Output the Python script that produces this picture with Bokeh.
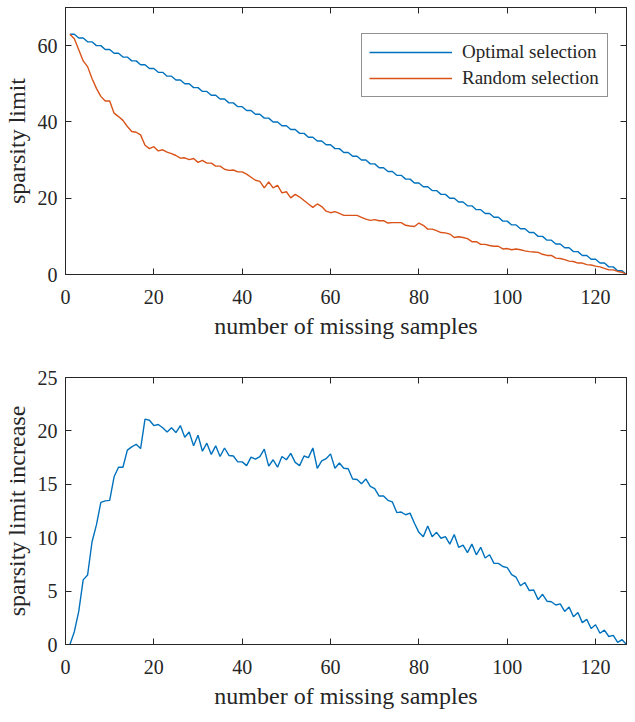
from bokeh.plotting import figure
from bokeh.layouts import column
from bokeh.models import LinearAxis, FixedTicker, Legend, LegendItem, CustomLabelingPolicy
from bokeh.embed import file_html
from bokeh.resources import INLINE

samples = list(range(1, 128))

optimal = [63,63,62,62,61,61,60,60,59,59,58,58,57,57,56,56,55,55,54,54,53,53,52,52,
           51,51,50,50,49,49,48,48,47,47,46,46,45,45,44,44,43,43,42,42,41,41,40,40,
           39,39,38,38,37,37,36,36,35,35,34,34,33,33,32,32,31,31,30,30,29,29,28,28,
           27,27,26,26,25,25,24,24,23,23,22,22,21,21,20,20,19,19,18,18,17,17,16,16,
           15,15,14,14,13,13,12,12,11,11,10,10,9,9,8,8,7,7,6,6,5,5,4,4,3,3,2,2,1,1,0]

random_sel = [63, 61.8, 58.9, 56.0, 54.5, 51.4, 48.8, 46.7, 45.5, 45.5,
              42.3, 41.4, 40.4, 38.8, 37.5, 37.3, 36.6, 33.9, 33.0, 33.5,
              32.4, 32.7, 32.1, 31.7, 31.2, 30.5, 30.6, 30.1, 30.4, 29.4,
              29.9, 29.2, 29.2, 28.4, 28.4, 27.6, 27.3, 27.4, 26.9, 26.9,
              26.3, 25.5, 24.7, 24.4, 22.7, 24.3, 22.7, 23.4, 21.4, 21.7,
              20.1, 21.0, 20.3, 19.4, 18.5, 17.6, 18.5, 17.8, 16.6, 16.2,
              16.5, 16.0, 15.5, 15.5, 15.5, 15.5, 15.0, 14.5, 14.2, 14.4,
              14.1, 14.1, 13.5, 13.6, 13.6, 13.6, 12.9, 12.7, 12.6, 13.5,
              12.9, 11.9, 11.9, 11.5, 11.0, 10.9, 10.6, 9.7, 9.9, 9.7,
              9.4, 8.6, 8.6, 7.9, 7.9, 7.6, 7.4, 7.4, 6.7, 6.8,
              6.5, 6.7, 6.5, 6.2, 6.0, 5.9, 5.8, 5.3, 5.0, 5.0,
              4.3, 4.2, 3.9, 3.5, 3.4, 3.0, 3.0, 2.6, 2.5, 2.2,
              2.0, 1.6, 1.2, 1.2, 0.8, 0.6, 0]

increase = [0, 1.2, 3.1, 6.05, 6.5, 9.6, 11.2, 13.3, 13.45, 13.5,
            15.7, 16.6, 16.6, 18.2, 18.5, 18.75, 18.35, 21.1, 21.0, 20.5,
            20.6, 20.3, 19.9, 20.3, 19.85, 20.5, 19.4, 19.9, 18.6, 19.6,
            18.1, 18.85, 17.8, 18.6, 17.6, 18.4, 17.7, 17.65, 17.1, 17.1,
            16.75, 17.55, 17.35, 17.6, 18.3, 16.7, 17.3, 16.6, 17.6, 17.3,
            17.9, 17.05, 16.75, 17.65, 17.5, 18.4, 16.5, 17.2, 17.4, 17.85,
            16.5, 17.0, 16.5, 16.45, 15.5, 15.45, 15.05, 15.5, 14.8, 14.6,
            13.9, 13.9, 13.5, 13.35, 12.35, 12.4, 12.15, 12.3, 11.35, 10.5,
            10.1, 11.1, 10.1, 10.5, 9.95, 10.1, 9.4, 10.3, 9.1, 9.3,
            8.6, 9.4, 8.4, 9.1, 8.1, 8.4, 7.6, 7.6, 7.3, 7.2,
            6.55, 6.3, 5.5, 5.8, 5.05, 5.1, 4.2, 4.7, 4.05, 4.0,
            3.7, 3.8, 3.1, 3.5, 2.6, 3.0, 2.05, 2.35, 1.5, 1.85,
            1.05, 1.35, 0.75, 0.85, 0.2, 0.45, 0]

x_ticks = [0, 20, 40, 60, 80, 100, 120]
top_y_ticks = [0, 20, 40, 60]
bottom_y_ticks = [0, 5, 10, 15, 20, 25]

BLUE = "#0072BD"
ORANGE = "#D95319"
AX = "#262626"
FONT = "Liberation Serif"

NO_LABELS = "for (const i of Array.from(indices)) { indices.unset(i) } return indices"


def style(p, yticks, ylabel):
    p.xgrid.visible = False
    p.ygrid.visible = False
    p.outline_line_color = AX
    p.outline_line_width = 1
    xax = p.below[0]
    yax = p.left[0]
    xax.ticker = FixedTicker(ticks=x_ticks)
    yax.ticker = FixedTicker(ticks=yticks)
    top = LinearAxis(ticker=FixedTicker(ticks=x_ticks),
                     major_label_policy=CustomLabelingPolicy(code=NO_LABELS))
    right = LinearAxis(ticker=FixedTicker(ticks=yticks),
                       major_label_policy=CustomLabelingPolicy(code=NO_LABELS))
    for ax in [xax, yax, top, right]:
        ax.axis_line_color = AX
        ax.major_tick_line_color = AX
        ax.major_tick_in = 6
        ax.major_tick_out = 0
        ax.minor_tick_line_color = None
        ax.major_label_text_font = FONT
        ax.major_label_text_color = AX
        ax.major_label_text_font_size = "20px"
        ax.axis_label_text_font = FONT
        ax.axis_label_text_font_style = "normal"
        ax.axis_label_text_color = AX
        ax.axis_label_text_font_size = "24px"
    for ax in [top, right]:
        ax.major_label_standoff = 0
        ax.major_label_text_font_size = "1px"
    xax.major_label_standoff = 15
    xax.axis_label = "number of missing samples"
    xax.axis_label_standoff = 6
    yax.major_label_standoff = 8
    yax.axis_label = ylabel
    yax.axis_label_standoff = 5
    p.add_layout(top, "above")
    p.add_layout(right, "right")


p1 = figure(frame_width=561, frame_height=267, x_range=(0, 127), y_range=(0, 70),
            output_backend="svg", toolbar_location=None,
            min_border_left=58, min_border_right=0, min_border_top=7, min_border_bottom=92)
r_opt = p1.line(samples, optimal, line_color=BLUE, line_width=1.4)
r_rnd = p1.line(samples, random_sel, line_color=ORANGE, line_width=1.4)
style(p1, top_y_ticks, "sparsity limit")
legend = Legend(items=[LegendItem(label="Optimal selection", renderers=[r_opt]),
                       LegendItem(label="Random selection", renderers=[r_rnd])],
                location=(296, 177), orientation="vertical")
legend.label_text_font = FONT
legend.label_text_font_size = "19px"
legend.label_text_color = AX
legend.glyph_width = 83
legend.glyph_height = 18
legend.label_height = 18
legend.label_width = 138
legend.label_standoff = 10
legend.spacing = 4
legend.padding = 7
legend.margin = 0
legend.border_line_color = AX
legend.border_line_width = 1
legend.background_fill_alpha = 1
p1.add_layout(legend, "center")

p2 = figure(frame_width=561, frame_height=267, x_range=(0, 127), y_range=(0, 25),
            output_backend="svg", toolbar_location=None,
            min_border_left=58, min_border_right=0, min_border_top=11, min_border_bottom=60)
p2.line(samples, increase, line_color=BLUE, line_width=1.4)
style(p2, bottom_y_ticks, "sparsity limit increase")

layout = column(p1, p2, spacing=0)
open("out.html", "w").write(file_html(layout, INLINE))
